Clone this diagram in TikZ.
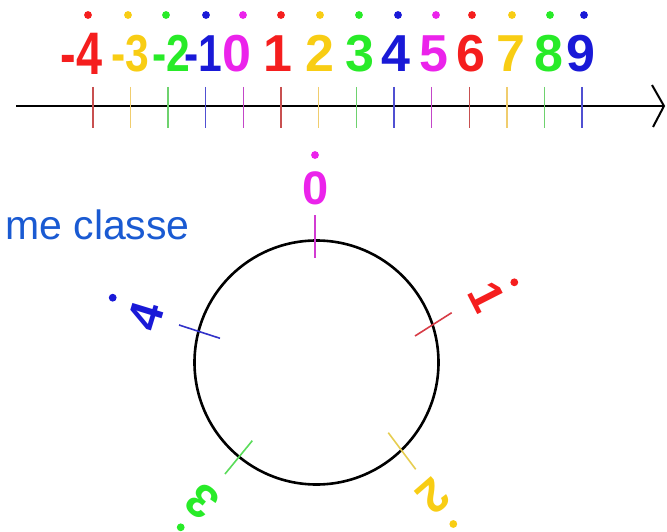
\documentclass[tikz,border=0pt]{standalone}
\usepackage{fontspec}
\setmainfont{Liberation Sans}
\definecolor{cR}{RGB}{245,30,30}
\definecolor{cY}{RGB}{248,205,20}
\definecolor{cG}{RGB}{40,235,40}
\definecolor{cB}{RGB}{25,25,215}
\definecolor{cM}{RGB}{235,35,235}
\definecolor{tR}{RGB}{200,80,80}
\definecolor{tY}{RGB}{240,205,110}
\definecolor{tG}{RGB}{110,210,110}
\definecolor{tB}{RGB}{80,80,210}
\definecolor{tM}{RGB}{195,70,200}
\definecolor{ctR}{RGB}{215,60,70}
\definecolor{ctY}{RGB}{230,205,80}
\definecolor{ctG}{RGB}{90,220,90}
\definecolor{ctB}{RGB}{50,50,200}
\definecolor{ctM}{RGB}{210,60,210}
\definecolor{textblue}{RGB}{26,90,210}
\begin{document}
\begin{tikzpicture}[x=1pt,y=1pt,
  toplab/.style={font=\fontsize{52}{52}\selectfont\bfseries, inner sep=0pt, anchor=base},
  circlab/.style={font=\fontsize{47}{47}\selectfont\bfseries, inner sep=0pt},
  dotring/.style={line width=1.3pt, fill=white},
  ticknl/.style={line width=1.6pt},
  tickcirc/.style={line width=1.6pt},
  axisline/.style={line width=2pt, black}]
\useasboundingbox (0,0) rectangle (667,-532);

% number line
\coordinate (axL) at (16,-106);
\coordinate (axR) at (664,-106);
\coordinate (arU) at (652,-85);
\coordinate (arD) at (653,-127);
\draw[axisline] (axL) -- (axR);
\draw[axisline, line join=miter] (arU) -- (axR) -- (arD);

% ticks on the number line
\foreach \i/\c in {0/R,1/Y,2/G,3/B,4/M,5/R,6/Y,7/G,8/B,9/M,10/R,11/Y,12/G,13/B}{
  \coordinate (ta\i) at ({92.7+37.66*\i},-87);
  \coordinate (tb\i) at ({92.7+37.66*\i},-128);
  \draw[ticknl, t\c] (ta\i) -- (tb\i);
}

% labels on the number line
\node[toplab, text=cR] (lm4) at (81.5,-75) {\fontsize{60}{60}\selectfont\scalebox{0.78}[1]{-4}};
\node[toplab, text=cY] (lm3) at (130,-72) {\scalebox{0.82}[1]{-3}};
\node[toplab, text=cG] (lm2) at (171.5,-72) {\scalebox{0.82}[1]{-2}};
\node[toplab, text=cB] (lm1) at (203,-72) {\scalebox{0.82}[1]{-1}};
\node[toplab, text=cM] (l0) at (237,-72) {0};
\node[toplab, text=cR] (l1) at (278,-72) {1};
\node[toplab, text=cY] (l2) at (320,-72) {2};
\node[toplab, text=cG] (l3) at (359.5,-72) {3};
\node[toplab, text=cB] (l4) at (395.5,-72) {4};
\node[toplab, text=cM] (l5) at (434,-72) {5};
\node[toplab, text=cR] (l6) at (471,-72) {6};
\node[toplab, text=cY] (l7) at (511,-72) {7};
\node[toplab, text=cG] (l8) at (549,-72) {8};
\node[toplab, text=cB] (l9) at (581,-72) {9};

% dots above labels
\foreach \x/\c [count=\k] in {88/R,128/Y,166/G,206/B,243/M,281/R,320/Y,359/G,398/B,436/M,472/R,512/Y,550/G,584/B}{
  \draw[dotring, c\c] (\x,-15) circle[radius=3.2pt];
}

% text
\node[font=\fontsize{41}{41}\selectfont, text=textblue, anchor=base east, inner sep=0pt] (cls) at (190,-240) {me classe};

% circle
\coordinate (C) at (316.5,-362.5);
\draw[line width=2.6pt, black] (C) circle[radius=122pt];

% ticks on circle
\coordinate (k0a) at (315,-215);   \coordinate (k0b) at (315,-258);
\coordinate (k1a) at (415,-336);   \coordinate (k1b) at (451.7,-312.7);
\coordinate (k2a) at (388.3,-432.7); \coordinate (k2b) at (415.7,-469.3);
\coordinate (k3a) at (225,-474);   \coordinate (k3b) at (252.3,-440.7);
\coordinate (k4a) at (179,-325);   \coordinate (k4b) at (220,-338.3);
\draw[tickcirc, ctM] (k0a) -- (k0b);
\draw[tickcirc, ctR] (k1a) -- (k1b);
\draw[tickcirc, ctY] (k2a) -- (k2b);
\draw[tickcirc, ctG] (k3a) -- (k3b);
\draw[tickcirc, ctB] (k4a) -- (k4b);

% circle labels
\node[circlab, text=cM] (c0) at (315.5,-188.5) {0};
\node[circlab, text=cR, rotate=-63] (c1) at (487,-297) {1};
\node[circlab, text=cY, rotate=-139] (c2) at (433.5,-496.5) {2};
\node[circlab, text=cG, rotate=140] (c3) at (202.5,-501.5) {3};
\node[circlab, text=cB, rotate=73] (c4) at (145.5,-316) {4};

% circle dots
\draw[dotring, cM] (315,-155) circle[radius=3.2pt];
\draw[dotring, cR] (514.3,-282.3) circle[radius=3.2pt];
\draw[dotring, cY] (453.3,-524) circle[radius=3.2pt];
\draw[dotring, cG] (180.7,-527.3) circle[radius=3.2pt];
\draw[dotring, cB] (112.7,-297.7) circle[radius=3.2pt];
\end{tikzpicture}
\end{document}
